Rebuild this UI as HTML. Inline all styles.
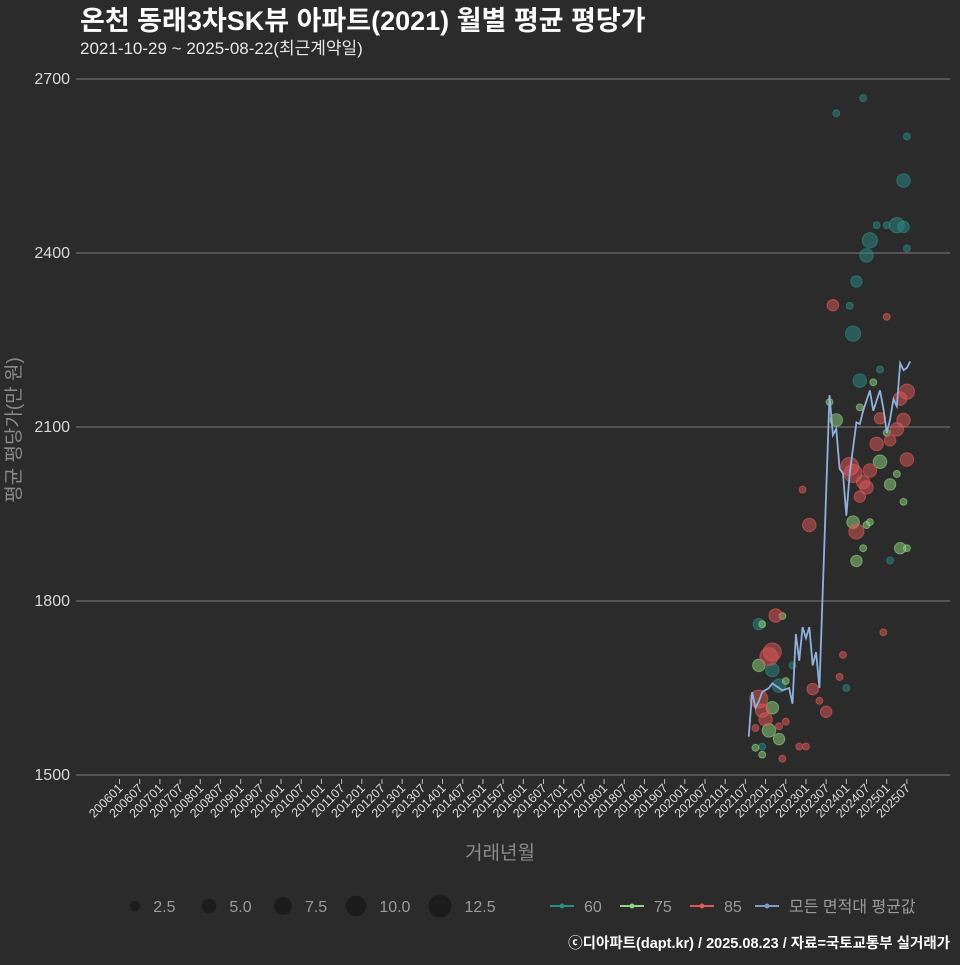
<!DOCTYPE html>
<html><head><meta charset="utf-8"><style>
body{margin:0;background:#2b2b2b;}
svg text{font-family:"Liberation Sans","Noto Sans CJK KR",sans-serif;}
</style></head><body>
<svg id="c" width="960" height="960" viewBox="0 0 960 960" xmlns="http://www.w3.org/2000/svg">
<rect width="960" height="960" fill="#2b2b2b"/>
<text x="80" y="30" font-size="27" font-weight="bold" fill="#ffffff">온천 동래3차SK뷰 아파트(2021) 월별 평균 평당가</text>
<text x="80" y="54" font-size="17" fill="#e6e6e6">2021-10-29 ~ 2025-08-22(최근계약일)</text>
<g id="grid"></g><g id="marks"></g><g id="xaxis"></g>
<text transform="translate(20,430) rotate(-90)" text-anchor="middle" font-size="19" fill="#8a8a8a">평균 평당가(만 원)</text>
<text x="500" y="859" text-anchor="middle" font-size="19" fill="#8a8a8a">거래년월</text>
<g id="legend"></g>
<text x="950" y="948" text-anchor="end" font-size="14.5" font-weight="bold" fill="#ffffff">ⓒ디아파트(dapt.kr) / 2025.08.23 / 자료=국토교통부 실거래가</text>
</svg>
<script>
// month index counted from 2006-01 (0)
const yTicks=[1500,1800,2100,2400,2700];
const lineMonths=[187,188,189,190,191,193,194,195,197,199,200,201,202,203,204,205,206,207,208,211,212,213,214,215,216,217,219,220,221,223,224,226,227,228,229,230,231,232,233,234,235];
const lineValues=[1566,1643,1616,1627,1643,1650,1658,1654,1646,1650,1623,1743,1697,1755,1736,1755,1689,1712,1650,2155,2086,2097,2028,2020,1947,2020,2108,2105,2128,2163,2128,2163,2132,2090,2113,2148,2136,2210,2198,2202,2213];
const m60=[221,213,234,233,225,228,231,233,223,222,234,219,217,218,220,226,190,194,196,200,216,229,191];
const v60=[2667,2641,2601,2525,2448,2448,2448,2445,2422,2396,2408,2351,2309,2261,2180,2199,1760,1681,1654,1689,1650,1870,1549];
const s60=[0.5,0.5,0.5,3,0.5,0.5,4,2,4,3,0.5,2,0.5,4,3,0.5,2,3,3,0.5,0.5,0.5,0.5];
const m75=[211,213,220,224,228,226,231,229,233,218,222,223,221,219,232,234,197,191,190,198,194,193,196,189,191];
const v75=[2143,2112,2134,2177,2090,2040,2019,2001,1971,1936,1931,1936,1891,1869,1891,1891,1774,1760,1689,1662,1616,1577,1562,1547,1535];
const s75=[0.5,2.5,0.5,0.5,0.5,3,0.5,2,0.5,2.5,0.5,0.5,0.5,2,2,0.5,0.5,0.5,2.5,0.5,2.5,3,2,0.5,0.5];
const m85=[212,228,234,232,233,226,231,229,225,217,218,223,221,222,220,234,203,205,219,227,195,194,193,190,191,192,189,196,198,206,208,210,215,214,202,204,197];
const v85=[2310,2290,2161,2149,2112,2115,2096,2077,2071,2032,2020,2025,2005,1996,1980,2044,1992,1931,1920,1746,1775,1712,1704,1631,1611,1596,1581,1584,1592,1648,1628,1609,1707,1669,1549,1549,1528];
const s85=[2,0.5,4,3,3,2,3,2,3,6,6,3,3,3,2,3,0.5,3,4,0.5,3,6,6,6,3,3,0.5,0.5,0.5,2,0.5,2,0.5,0.5,0.5,0.5,0.5];
const xTickLabels=[];for(let y=2006;y<=2025;y++){xTickLabels.push(y+"01");xTickLabels.push(y+"07");}
const sizeLegend=[2.5,5.0,7.5,10.0,12.5];

const NS="http://www.w3.org/2000/svg";
const X=m=>119.5+m*3.365;
const Y=v=>775-(v-1500)*0.58;
const R=s=>3.2*Math.sqrt(s)+1.2;
function mk(t,a,p){const e=document.createElementNS(NS,t);for(const k in a)e.setAttribute(k,a[k]);p.appendChild(e);return e;}
const grid=document.getElementById('grid'),marks=document.getElementById('marks'),xa=document.getElementById('xaxis'),lg=document.getElementById('legend');
yTicks.forEach(v=>{
 const l=mk('line',{x1:76,x2:950,y1:Y(v),y2:Y(v),stroke:'#6e6e6e','stroke-width':1.2},grid);
 
 
 const t=mk('text',{x:70,y:Y(v)+5,'text-anchor':'end','font-size':16,fill:'#d8d8d8'},grid);
 t.textContent=v;
 
 
});
xTickLabels.forEach((lab,i)=>{
 const x=X(i*6);
 const tk=mk('line',{x1:x,x2:x,y1:779,y2:784,stroke:'#bbbbbb'},xa);
 
 
 const t=mk('text',{transform:`translate(${x+4},${789}) rotate(-45)`,'text-anchor':'end','font-size':12.5,fill:'#dddddd'},xa);
 t.textContent=lab;
 
 
});
function bubbles(ms,vs,ss,col,name){
 ms.forEach((m,i)=>{
  const c=mk('circle',{cx:X(m),cy:Y(vs[i]),r:R(ss[i]),fill:col,'fill-opacity':0.5,stroke:col,'stroke-opacity':0.6},marks);
  
  
 });
}
bubbles(m60,v60,s60,'#2a8c88','bubble-60');
bubbles(m75,v75,s75,'#8fd67e','bubble-75');
bubbles(m85,v85,s85,'#e25858','bubble-85');
const pl=mk('polyline',{points:lineMonths.map((m,i)=>X(m)+','+Y(lineValues[i])).join(' '),fill:'none',stroke:'#8fb0dc','stroke-width':1.8},marks);


// legend
const sx=[135,209,283,356,440];
sizeLegend.forEach((s,i)=>{
 const c=mk('circle',{cx:sx[i],cy:906,r:R(s)-1,fill:'#1c1c1c'},lg);
 
 
 const t=mk('text',{x:sx[i]+R(s)+12,y:912,'font-size':16,fill:'#9a9a9a'},lg);
 t.textContent=s.toFixed(1);
 
 
});
const cl=[['60','#2a8c88',550],['75','#8fd67e',620],['85','#e25858',690],['모든 면적대 평균값','#7a9cc8',755]];
cl.forEach(([lab,col,x])=>{
 const g=mk('g',{},lg);
 
 
 mk('line',{x1:x,x2:x+24,y1:906,y2:906,stroke:col,'stroke-width':2},g);
 mk('circle',{cx:x+12,cy:906,r:2.5,fill:col},g);
 const t=mk('text',{x:x+34,y:912,'font-size':16,fill:'#9a9a9a'},g);
 t.textContent=lab;
});
</script>
</body></html>
